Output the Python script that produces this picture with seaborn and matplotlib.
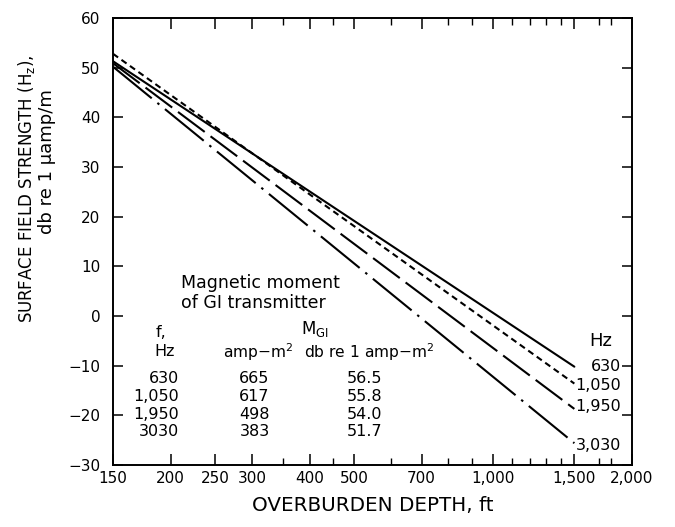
import matplotlib
matplotlib.use("Agg")
import matplotlib.pyplot as plt
import matplotlib.ticker as mticker
import seaborn as sns
import pandas as pd

# ---- data ----
freq_labels = ["630", "1,050", "1,950", "3,030"]
depth_ft = [150, 1500]
field_630 = [51.3, -10.2]
field_1050 = [52.8, -13.6]
field_1950 = [50.9, -18.7]
field_3030 = [50.2, -25.6]

table_f = ["630", "1,050", "1,950", "3030"]
table_amp = ["665", "617", "498", "383"]
table_db = ["56.5", "55.8", "54.0", "51.7"]

x_ticks = [150, 200, 250, 300, 400, 500, 700, 1000, 1500, 2000]
x_tick_labels = ["150", "200", "250", "300", "400", "500", "700", "1,000", "1,500", "2,000"]
x_minor = [350, 450, 600, 800, 900, 1100, 1200, 1300, 1400, 1700, 1800]
y_ticks = [-30, -20, -10, 0, 10, 20, 30, 40, 50, 60]

rows = []
for lab, vals in zip(freq_labels, [field_630, field_1050, field_1950, field_3030]):
    for d, v in zip(depth_ft, vals):
        rows.append({"depth": d, "field": v, "freq": lab})
df = pd.DataFrame(rows)

sns.set_theme(style="white")
plt.rcParams["font.family"] = ["DejaVu Sans"]
plt.rcParams["mathtext.default"] = "regular"
plt.rcParams["text.color"] = "black"
plt.rcParams["axes.labelcolor"] = "black"
plt.rcParams["xtick.color"] = "black"
plt.rcParams["ytick.color"] = "black"

fig = plt.figure(figsize=(6.75, 5.27), dpi=100)
ax = fig.add_axes([0.1674, 0.1176, 0.9363 - 0.1674, 0.9658 - 0.1176])

dashes = {"630": "", "1,050": (3.0, 2.0), "1,950": (16, 3.5), "3,030": (24, 3.5, 1.2, 3.5)}
sns.lineplot(data=df, x="depth", y="field", style="freq", style_order=freq_labels,
             dashes=dashes, color="black", linewidth=1.5, legend=False, ax=ax)

ax.set_xscale("log")
ax.set_xlim(150, 2000)
ax.set_ylim(-30, 60)
ax.xaxis.set_major_locator(mticker.FixedLocator(x_ticks))
ax.xaxis.set_major_formatter(mticker.FixedFormatter(x_tick_labels))
ax.xaxis.set_minor_locator(mticker.FixedLocator(x_minor))
ax.xaxis.set_minor_formatter(mticker.NullFormatter())
ax.set_yticks(y_ticks)
ax.set_yticklabels([f"{v}".replace("-", "\u2212") for v in y_ticks])

for s in ax.spines.values():
    s.set_visible(True)
    s.set_color("black")
    s.set_linewidth(1.4)

ax.tick_params(axis="y", which="major", direction="in", length=7, width=1.1,
               left=True, right=True, labelsize=11, pad=9)
ax.tick_params(axis="x", which="major", direction="in", length=8, width=1.1,
               bottom=True, top=True, labelsize=11, pad=4.5)
ax.tick_params(axis="x", which="minor", direction="in", length=5, width=1.0,
               bottom=True, top=True)
ax.set_xlabel("OVERBURDEN DEPTH, ft", fontsize=14.3, labelpad=7)
ax.set_ylabel("")

fig.text(0.039, 0.6423, "SURFACE FIELD STRENGTH (H$_{z}$),", rotation=90,
         ha="center", va="center", fontsize=12)
fig.text(0.069, 0.6936, "db re 1 \u03bcamp/m", rotation=90,
         ha="center", va="center", fontsize=13)

# right-end labels
ax.text(1710, -5.1, "Hz", ha="center", va="center", fontsize=13)
end_y = [-10.2, -13.9, -18.3, -26.0]
for lab, yy in zip(freq_labels, end_y):
    ax.text(1893, yy, lab, ha="right", va="center", fontsize=11.5)

# table text
ax.text(211, 6.7, "Magnetic moment", ha="left", va="center", fontsize=12.5)
ax.text(211, 2.6, "of GI transmitter", ha="left", va="center", fontsize=12.5)
ax.text(191, -3.4, "f,", ha="center", va="center", fontsize=11.5)
ax.text(194, -7.2, "Hz", ha="center", va="center", fontsize=11.5)
ax.text(410, -2.7, "M$_{GI}$", ha="center", va="center", fontsize=12)
ax.text(310, -7.3, "amp\u2212m$^{2}$", ha="center", va="center", fontsize=11.2)
ax.text(540, -7.3, "db re 1 amp\u2212m$^{2}$", ha="center", va="center", fontsize=11.2)
row_y = [-12.5, -16.3, -19.9, -23.35]
for f, a, d, yy in zip(table_f, table_amp, table_db, row_y):
    ax.text(209, yy, f, ha="right", va="center", fontsize=11.5)
    ax.text(304, yy, a, ha="center", va="center", fontsize=11.5)
    ax.text(526, yy, d, ha="center", va="center", fontsize=11.5)

fig.savefig("out.png", dpi=100, facecolor="white")
